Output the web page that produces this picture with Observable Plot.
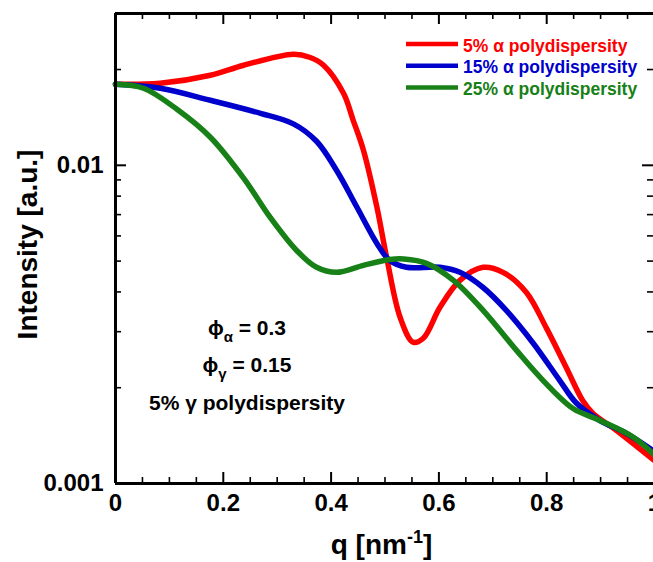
<!DOCTYPE html>
<html><head><meta charset="utf-8">
<script src="https://cdn.jsdelivr.net/npm/d3@7"></script>
<script src="https://cdn.jsdelivr.net/npm/@observablehq/plot@0.6"></script>
<style>html,body{margin:0;padding:0;background:#fff;overflow:hidden}</style>
</head><body><div id="chart"></div>
<script>
// ---- data ----
const seriesNames = ["5% α polydispersity", "15% α polydispersity", "25% α polydispersity"];
const seriesColors = ["#ff0000", "#0000cc", "#178017"];

const q5 = [0, 0.083, 0.176, 0.238, 0.33, 0.36, 0.386, 0.423, 0.441, 0.46, 0.485, 0.503, 0.528, 0.552, 0.571, 0.602, 0.639, 0.682, 0.719, 0.762, 0.799, 0.836, 0.867, 0.886, 0.929, 1.0];
const i5 = [0.01798, 0.01811, 0.01919, 0.02063, 0.02234, 0.02186, 0.02063, 0.01684, 0.01385, 0.01115, 0.00738, 0.00514, 0.00333, 0.00278, 0.00286, 0.00358, 0.00435, 0.00478, 0.00461, 0.00399, 0.00309, 0.00232, 0.00182, 0.00166, 0.00147, 0.00118];

const q15 = [0, 0.083, 0.176, 0.269, 0.33, 0.373, 0.41, 0.448, 0.485, 0.509, 0.54, 0.602, 0.639, 0.682, 0.725, 0.775, 0.824, 0.855, 0.898, 0.947, 1.0];
const i15 = [0.01798, 0.01747, 0.01601, 0.01457, 0.01350, 0.01190, 0.00965, 0.00738, 0.00568, 0.00502, 0.00478, 0.00478, 0.00461, 0.00413, 0.00350, 0.00276, 0.00211, 0.00179, 0.00158, 0.00144, 0.00126];

const q25 = [0, 0.052, 0.114, 0.176, 0.238, 0.287, 0.336, 0.373, 0.41, 0.46, 0.509, 0.535, 0.577, 0.627, 0.682, 0.744, 0.793, 0.849, 0.898, 0.96, 1.0];
const i25 = [0.01798, 0.01747, 0.01500, 0.01225, 0.00910, 0.00686, 0.00540, 0.00478, 0.00461, 0.00485, 0.00506, 0.00508, 0.00492, 0.00435, 0.00350, 0.00262, 0.00211, 0.00172, 0.00158, 0.00140, 0.00123];

const xMajorTicks = [0, 0.2, 0.4, 0.6, 0.8, 1];
const xTickLabels = ["0", "0.2", "0.4", "0.6", "0.8", "1"];
const xMinorTicks = [0.05, 0.1, 0.15, 0.25, 0.3, 0.35, 0.45, 0.5, 0.55, 0.65, 0.7, 0.75, 0.85, 0.9, 0.95];
const yMajorTicks = [0.001, 0.01];
const yTickLabels = ["0.001", "0.01"];
const yMinorTicks = [0.002, 0.003, 0.004, 0.005, 0.006, 0.007, 0.008, 0.009, 0.02];

const xTitle = "q [nm-1]";
const yTitle = "Intensity [a.u.]";
const noteLines = [
  [["ϕ", ""], ["α", "sub"], [" = 0.3", ""]],
  [["ϕ", ""], ["γ", "sub"], [" = 0.15", ""]],
  [["5% γ polydispersity", ""]]
];

// ---- table for the library ----
const data = [];
[[q5, i5], [q15, i15], [q25, i25]].forEach(([qs, is], k) =>
  qs.forEach((q, j) => data.push({series: seriesNames[k], q, I: is[j]})));

// ---- layout ----
const W = 653, H = 562, mL = 115, mT = 13, mB = 79;
const innerW = W - mL, innerH = H - mT - mB;
const majorLen = 11, minorLen = 6;
const font = "'Liberation Sans', Arial, Helvetica, sans-serif";

const plot = Plot.plot({
  width: W, height: H,
  marginLeft: mL, marginRight: 0, marginTop: mT, marginBottom: mB,
  style: {fontFamily: font, fontWeight: "bold", fontSize: "24px", overflow: "visible", background: "white", color: "black"},
  x: {domain: [0, 1], range: [mL, 654]},
  y: {type: "log", domain: [0.001, 0.03]},
  color: {domain: seriesNames, range: seriesColors},
  marks: [
    Plot.line(data, {x: "q", y: "I", stroke: "series", z: "series", strokeWidth: 5.5, curve: "catmull-rom", strokeLinejoin: "round"}),
    // frame (left, bottom, top)
    Plot.ruleX([0], {strokeWidth: 3}),
    Plot.ruleY([0.001, 0.03], {strokeWidth: 3}),
    // x ticks bottom & top
    Plot.ruleX(xMajorTicks, {insetTop: innerH - majorLen, strokeWidth: 2}),
    Plot.ruleX(xMinorTicks, {insetTop: innerH - minorLen, strokeWidth: 1.6}),
    Plot.ruleX(xMajorTicks, {insetBottom: innerH - majorLen, strokeWidth: 2}),
    Plot.ruleX(xMinorTicks, {insetBottom: innerH - minorLen, strokeWidth: 1.6}),
    // y ticks left & right
    Plot.ruleY(yMajorTicks, {insetRight: innerW - majorLen, strokeWidth: 2}),
    Plot.ruleY(yMinorTicks, {insetRight: innerW - minorLen, strokeWidth: 1.6}),
    Plot.ruleY(yMajorTicks, {insetLeft: innerW - majorLen, strokeWidth: 2}),
    Plot.ruleY(yMinorTicks, {insetLeft: innerW - minorLen, strokeWidth: 1.6}),
    // tick labels
    Plot.axisX({ticks: xMajorTicks, tickSize: 0, tickPadding: 10, label: null, fontSize: 24,
      tickFormat: d => xTickLabels[xMajorTicks.indexOf(d)]}),
    Plot.axisY({ticks: yMajorTicks, tickSize: 0, tickPadding: 12, label: null, fontSize: 24,
      tickFormat: d => yTickLabels[yMajorTicks.indexOf(d)]}),
    // axis titles
    Plot.text([xTitle], {frameAnchor: "bottom", dx: -3, dy: 70, fontSize: 28, lineAnchor: "bottom", textAnchor: "middle"}),
    Plot.text([yTitle], {frameAnchor: "left", dx: -87, dy: -4, rotate: -90, fontSize: 28, lineAnchor: "middle", textAnchor: "middle"})
  ]
});

document.getElementById("chart").appendChild(plot);
const svg = d3.select(plot);

// superscript in x title
svg.selectAll("text").filter(function() { return this.textContent === xTitle; }).each(function() {
  const t = d3.select(this);
  t.text(null);
  t.append("tspan").text("q [nm");
  t.append("tspan").attr("dy", -11).attr("font-size", 18).text("-1");
  t.append("tspan").attr("dy", 11).text("]");
});

// legend inside the plot
const lg = svg.append("g").attr("font-family", font).attr("font-weight", "bold")
  .attr("font-size", 17.5).attr("text-anchor", "start");
seriesNames.forEach((name, i) => {
  lg.append("line").attr("x1", 406).attr("x2", 458)
    .attr("y1", 44 + i * 21.7).attr("y2", 44 + i * 21.7)
    .attr("stroke", seriesColors[i]).attr("stroke-width", 4.5);
  lg.append("text").attr("x", 463).attr("y", 51.7 + i * 21.7)
    .attr("text-anchor", "start").attr("fill", seriesColors[i]).text(name);
});

// annotation
const ng = svg.append("g").attr("font-family", font).attr("font-weight", "bold").attr("font-size", 21)
  .attr("text-anchor", "middle").attr("fill", "black");
const noteBase = [335, 372, 410];
noteLines.forEach((parts, i) => {
  const t = ng.append("text").attr("x", 247).attr("y", noteBase[i]);
  let shifted = false;
  parts.forEach(([s, kind]) => {
    const sp = t.append("tspan").text(s);
    if (kind === "sub") { sp.attr("dy", 7).attr("font-size", 15); shifted = true; }
    else if (shifted) { sp.attr("dy", -7); shifted = false; }
  });
});
</script>
</body></html>
